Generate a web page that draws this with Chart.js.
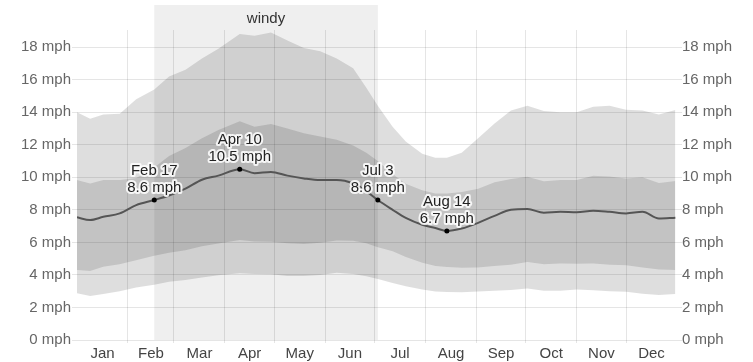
<!DOCTYPE html>
<html>
<head>
<meta charset="utf-8">
<script src="https://cdn.jsdelivr.net/npm/chart.js@4/dist/chart.umd.min.js"></script>
<style>
  html, body { margin:0; padding:0; background:#fff; }
  #wrap { width:753px; height:362px; }
</style>
</head>
<body>
<div id="wrap"><canvas id="chart" width="753" height="362"></canvas></div>
<script>
// day of year (0 = Jan 1)
const days = [0, 8, 16, 26, 36, 47, 56, 66, 76, 86, 99, 108, 118, 128, 138, 148, 158, 168, 176, 183,
  192, 200, 210, 218, 225, 234, 244, 254, 264, 274, 284, 294, 304, 314, 324, 334, 344, 354, 364];

// wind speed percentiles, mph
const p90 = [14.0, 13.6, 13.86, 13.9, 14.8, 15.4, 16.2, 16.6, 17.3, 17.9, 18.8, 18.7, 18.9, 18.4, 17.95, 17.75, 17.3, 16.7, 15.5, 14.4,
  13.1, 12.2, 11.45, 11.2, 11.2, 11.5, 12.4, 13.3, 14.1, 14.4, 14.07, 14.0, 14.0, 14.33, 14.4, 14.15, 14.1, 13.85, 14.13];
const p75 = [9.83, 9.62, 9.83, 9.83, 9.95, 10.6, 11.3, 11.8, 12.4, 12.9, 13.45, 13.1, 13.27, 13.0, 12.7, 12.5, 12.3, 11.95, 11.5, 11.0,
  10.2, 9.6, 9.2, 9.0, 9.0, 9.1, 9.3, 9.7, 9.9, 10.03, 9.75, 9.83, 9.83, 10.1, 10.05, 9.93, 10.0, 9.65, 9.77];
const p50 = [7.54, 7.37, 7.57, 7.78, 8.29, 8.6, 8.88, 9.3, 9.85, 10.1, 10.5, 10.25, 10.33, 10.1, 9.93, 9.83, 9.83, 9.62, 9.15, 8.6,
  8.0, 7.5, 7.08, 6.88, 6.7, 6.85, 7.2, 7.63, 8.0, 8.05, 7.82, 7.88, 7.85, 7.95, 7.88, 7.78, 7.88, 7.47, 7.52];
const p25 = [4.3, 4.24, 4.5, 4.65, 4.9, 5.18, 5.36, 5.52, 5.76, 5.93, 6.14, 6.05, 6.04, 5.94, 5.9, 5.98, 6.12, 6.1, 5.95, 5.7,
  5.45, 5.1, 4.75, 4.55, 4.48, 4.44, 4.46, 4.55, 4.62, 4.8, 4.65, 4.7, 4.68, 4.7, 4.62, 4.6, 4.46, 4.34, 4.3];
const p10 = [2.87, 2.7, 2.83, 3.0, 3.22, 3.4, 3.58, 3.69, 3.84, 3.98, 4.1, 4.05, 4.04, 3.93, 3.93, 3.99, 4.13, 4.05, 3.92, 3.75,
  3.5, 3.3, 3.1, 2.98, 2.95, 2.94, 2.98, 3.03, 3.08, 3.17, 3.03, 3.03, 3.1, 3.05, 3.0, 2.97, 2.84, 2.77, 2.83];

// labelled points
const markDays = [47, 99, 183, 225];
const markValues = [8.6, 10.5, 8.6, 6.7];
const markDates = ['Feb 17', 'Apr 10', 'Jul 3', 'Aug 14'];

// windy season (day range)
const windyStart = 47;
const windyEnd = 183;
const windyLabel = 'windy';

const monthStarts = [0, 31, 59, 90, 120, 151, 181, 212, 243, 273, 304, 334, 365];
const monthNames = ['Jan','Feb','Mar','Apr','May','Jun','Jul','Aug','Sep','Oct','Nov','Dec'];
const yTicks = [0, 2, 4, 6, 8, 10, 12, 14, 16, 18];

const FONT = '"Liberation Sans", Arial, sans-serif';
const pts = arr => days.map((d, i) => ({x: d, y: arr[i]}));

// x ticks: month boundaries carry the grid, mid-months carry the names
const gridDays = monthStarts.slice(1, -1);
const midDays = monthNames.map((m, i) => (monthStarts[i] + monthStarts[i + 1]) / 2);
const xTickVals = gridDays.concat(midDays).sort((a, b) => a - b);

const windyPlugin = {
  id: 'windy',
  beforeDraw(chart){
    const {ctx, scales:{x}, chartArea} = chart;
    const x0 = x.getPixelForValue(windyStart), x1 = x.getPixelForValue(windyEnd);
    ctx.save();
    ctx.fillStyle = '#efefef';
    ctx.fillRect(x0, 5, x1 - x0, chartArea.bottom - 5);
    ctx.fillStyle = '#333';
    ctx.font = '15px ' + FONT;
    ctx.textAlign = 'center';
    ctx.textBaseline = 'middle';
    ctx.fillText(windyLabel, (x0 + x1) / 2, 19);
    ctx.restore();
  },
  afterDatasetsDraw(chart){
    const {ctx, scales:{x, y}} = chart;
    ctx.save();
    ctx.font = '15px ' + FONT;
    ctx.textAlign = 'center';
    ctx.textBaseline = 'middle';
    ctx.lineJoin = 'round';
    markDays.forEach((d, i) => {
      const px = x.getPixelForValue(d), py = y.getPixelForValue(markValues[i]);
      const lines = [[markDates[i], py - 29], [markValues[i].toFixed(1) + ' mph', py - 12]];
      lines.forEach(([t, ty]) => {
        ctx.strokeStyle = 'rgba(255,255,255,0.85)';
        ctx.lineWidth = 4;
        ctx.strokeText(t, px, ty);
        ctx.fillStyle = '#222';
        ctx.fillText(t, px, ty);
      });
    });
    ctx.restore();
  }
};

const yAxis = (pos, w, onArea, pad) => ({
  type: 'linear', position: pos, min: 0, max: 19.05,
  afterBuildTicks: s => { s.ticks = yTicks.map(v => ({value: v})); },
  afterFit: s => { s.width = w; },
  border: {display: false},
  grid: {display: true, drawOnChartArea: onArea, color: 'rgba(0,0,0,0.1)', tickLength: 5},
  ticks: {padding: pad, color: '#666', font: {family: FONT, size: 15}, callback: v => v + ' mph'}
});

new Chart(document.getElementById('chart').getContext('2d'), {
  type: 'line',
  data: { datasets: [
    { label: 'p10', data: pts(p10), borderWidth: 0, pointRadius: 0, fill: false, order: 2 },
    { label: 'p90', data: pts(p90), borderWidth: 0, pointRadius: 0, fill: 0, backgroundColor: 'rgba(0,0,0,0.13)', order: 2 },
    { label: 'p25', data: pts(p25), borderWidth: 0, pointRadius: 0, fill: false, order: 2 },
    { label: 'p75', data: pts(p75), borderWidth: 0, pointRadius: 0, fill: 2, backgroundColor: 'rgba(0,0,0,0.12)', order: 2 },
    { label: 'median', data: pts(p50), borderColor: '#555', borderWidth: 2, pointRadius: 0, fill: false,
      cubicInterpolationMode: 'monotone', order: 1 },
    { label: 'marks', data: markDays.map((d, i) => ({x: d, y: markValues[i]})), showLine: false,
      pointRadius: 2.5, pointBackgroundColor: '#000', pointBorderWidth: 0, order: 0 }
  ]},
  options: {
    responsive: false, animation: false, events: [],
    layout: { padding: {top: 30, left: 0, right: 0, bottom: 0} },
    plugins: { legend: {display: false}, tooltip: {enabled: false} },
    scales: {
      x: {
        type: 'linear', min: 0, max: 365,
        afterBuildTicks: s => { s.ticks = xTickVals.map(v => ({value: v})); },
        afterFit: s => { s.height = 22; },
        border: {display: false},
        grid: {
          color: c => (c.tick && gridDays.includes(c.tick.value)) ? 'rgba(0,0,0,0.1)' : 'rgba(0,0,0,0)',
          tickLength: 3
        },
        ticks: {
          autoSkip: false, maxRotation: 0, padding: 2, color: '#444',
          font: {family: FONT, size: 15},
          callback: v => { const i = midDays.indexOf(v); return i >= 0 ? monthNames[i] : ''; }
        }
      },
      y: yAxis('left', 77, true, 1),
      y2: yAxis('right', 76, false, 0)
    }
  },
  plugins: [windyPlugin]
});
</script>
</body>
</html>
